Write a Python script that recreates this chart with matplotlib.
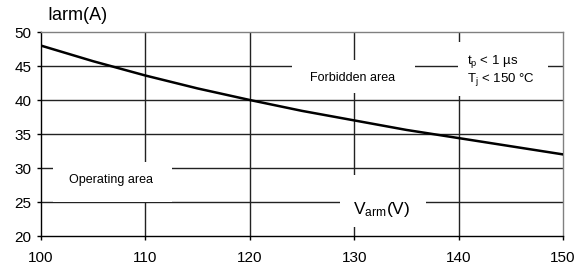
import matplotlib
matplotlib.use("Agg")
import matplotlib.pyplot as plt
from matplotlib.patches import Rectangle

plt.rcParams['font.family'] = ['Liberation Sans', 'DejaVu Sans']

varm = [100, 105, 110, 115, 120, 125, 130, 135, 140, 145, 150]
iarm = [48.0, 45.7, 43.6, 41.7, 40.0, 38.4, 37.0, 35.6, 34.4, 33.2, 32.0]
xticks = [100, 110, 120, 130, 140, 150]
yticks = [20, 25, 30, 35, 40, 45, 50]

fig = plt.figure(figsize=(5.88, 2.68), dpi=100)
ax = fig.add_axes([41/588, 1-236/268, 522/588, 204/268])
ax.set_xlim(100, 150)
ax.set_ylim(20, 50)
ax.set_xticks(xticks)
ax.set_yticks(yticks)
ax.tick_params(direction='out', length=3, width=1, labelsize=11, color='black')
ax.tick_params(axis='x', pad=8)
ax.tick_params(axis='y', pad=4)
for xv in xticks[1:-1]:
    ax.axvline(xv, color='#222222', lw=1, zorder=1)
for yv in yticks[1:-1]:
    ax.axhline(yv, color='#222222', lw=1, zorder=1)
ax.spines['left'].set_color('black')
ax.spines['bottom'].set_color('black')
ax.spines['top'].set_color('#808080')
ax.spines['right'].set_color('#808080')
for s in ax.spines.values():
    s.set_linewidth(1)

def px2x(p):
    return 100 + (p - 41) / 522 * 50

def px2y(p):
    return 50 - (p - 32) / 6.8

masks = [(292, 415, 60, 93), (458, 548, 42, 96), (53, 172, 162, 201.5), (340, 426, 175, 227)]
for x0, x1, y0, y1 in masks:
    ax.add_patch(Rectangle((px2x(x0), px2y(y1)), px2x(x1) - px2x(x0), px2y(y0) - px2y(y1),
                           facecolor='white', edgecolor='none', zorder=2))

ax.plot(varm, iarm, color='black', lw=1.8, zorder=3)

ax.text(px2x(353), px2y(78), 'Forbidden area', ha='center', va='center', fontsize=9, zorder=4)
ax.text(px2x(467), px2y(61), r'$\mathregular{t_p}$ < 1 µs', ha='left', va='center', fontsize=9.5, zorder=4)
ax.text(px2x(467), px2y(79), r'$\mathregular{T_j}$ < 150 °C', ha='left', va='center', fontsize=9.5, zorder=4)
ax.text(px2x(111), px2y(180), 'Operating area', ha='center', va='center', fontsize=9, zorder=4)
ax.text(px2x(382), px2y(209), r'$\mathregular{V_{arm}}$(V)', ha='center', va='center', fontsize=12.5, zorder=4)
fig.text(77/588, 1-16/268, 'Iarm(A)', ha='center', va='center', fontsize=13)

fig.savefig('out.png', dpi=100)
